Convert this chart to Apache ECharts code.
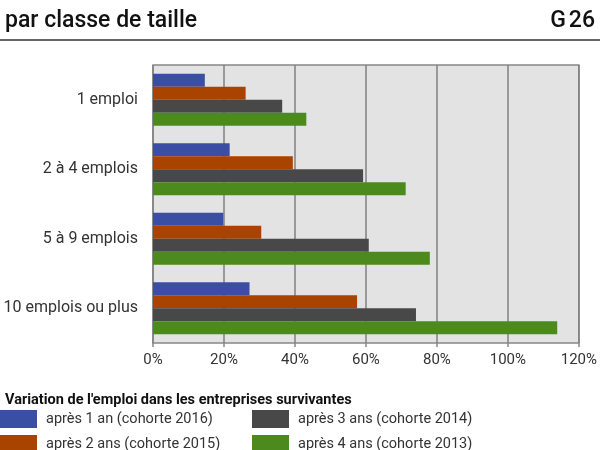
<!DOCTYPE html>
<html><head><meta charset="utf-8">
<script src="https://cdn.jsdelivr.net/npm/echarts@6/dist/echarts.min.js"></script>
<style>html,body{margin:0;padding:0;background:#fff}#c{width:600px;height:450px}</style>
</head><body><div id="c"></div>
<script>
const categories = ["1 emploi", "2 à 4 emplois", "5 à 9 emplois", "10 emplois ou plus"];
const seriesNames = ["après 1 an (cohorte 2016)", "après 2 ans (cohorte 2015)", "après 3 ans (cohorte 2014)", "après 4 ans (cohorte 2013)"];
const apres1 = [14.6, 21.6, 19.8, 27.2];
const apres2 = [26.1, 39.4, 30.5, 57.5];
const apres3 = [36.4, 59.2, 60.8, 74.1];
const apres4 = [43.2, 71.2, 78.0, 113.9];
const xTicks = [0, 20, 40, 60, 80, 100, 120];
const colors = ["#3a4ea3", "#a84300", "#484848", "#4d8a1e"];

const values = [apres1, apres2, apres3, apres4];
const font = "Roboto";
const chart = echarts.init(document.getElementById('c'), null, {renderer: 'canvas'});
const legendPos = [[0, 410], [0, 435], [252, 410], [252, 435]];
chart.setOption({
  animation: false,
  textStyle: {fontFamily: font},
  title: [
    {text: "par classe de taille", left: 0, top: 5, textStyle: {fontFamily: font, fontSize: 23, fontWeight: 500, color: '#111'}},
    {text: "G\u202F26", right: 0, top: 5, textStyle: {fontFamily: font, fontSize: 23, fontWeight: 500, color: '#111'}},
    {text: "Variation de l'emploi dans les entreprises survivantes", left: 0, top: 388, textStyle: {fontFamily: font, fontSize: 14.5, fontWeight: 'bold', color: '#111'}}
  ],
  graphic: [
    {type: 'line', shape: {x1: 0, y1: 40, x2: 600, y2: 40}, style: {stroke: '#333', lineWidth: 1.5}}
  ],
  legend: seriesNames.map((n, i) => ({
    data: [n], left: legendPos[i][0], top: legendPos[i][1], itemWidth: 37, itemHeight: 18, itemGap: 0,
    icon: 'rect', selectedMode: false, padding: 0,
    textStyle: {fontFamily: font, fontSize: 14.5, color: '#333', padding: [0, 0, 0, 4]}
  })),
  grid: {left: 153, right: 19, top: 65, bottom: 107, show: true, backgroundColor: '#e3e3e3', borderColor: '#888', borderWidth: 1.5},
  xAxis: {
    type: 'value', min: 0, max: 120, interval: 20,
    axisLine: {show: false},
    axisTick: {show: true, length: 4, lineStyle: {color: '#888', width: 1.5}},
    splitLine: {show: true, lineStyle: {color: '#808080', width: 1.5}},
    axisLabel: {fontFamily: font, fontSize: 15, color: '#333', margin: 10, formatter: v => v + '%'}
  },
  yAxis: {
    type: 'category', data: categories, inverse: true,
    axisLine: {show: false}, axisTick: {show: false},
    axisLabel: {fontFamily: font, fontSize: 16, color: '#333', margin: 15}
  },
  series: seriesNames.map((n, i) => ({
    name: n, type: 'bar', data: values[i], barWidth: 13, barGap: '0%', barCategoryGap: '25%',
    itemStyle: {color: colors[i]}
  }))
});
</script></body></html>
